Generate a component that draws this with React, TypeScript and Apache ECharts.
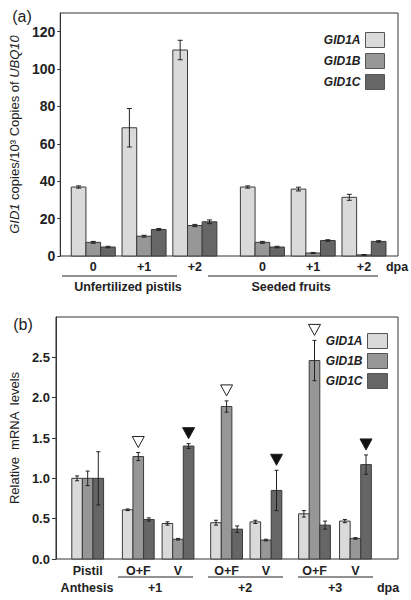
import React, { useEffect, useRef } from 'react';
import * as echarts from 'echarts';

const GENES = ['GID1A', 'GID1B', 'GID1C'];
const COLORS = ['#dadada', '#979797', '#666666'];
const FONT = '"Liberation Sans", Arial, sans-serif';
const NARROW = '"Liberation Sans Narrow", "Arial Narrow", "Liberation Sans", sans-serif';

// Panel (a)
const A_LABELS = ['0', '+1', '+2', '0', '+1', '+2'];
const A_POS = [1, 2, 3, 4.33, 5.33, 6.33];
const A_GID1A = [36.9, 68.6, 110.2, 36.9, 35.8, 31.4];
const A_GID1A_ERR = [0.6, 10.3, 5.2, 0.6, 1.0, 1.6];
const A_GID1B = [7.3, 10.6, 16.3, 7.3, 1.6, 0.6];
const A_GID1B_ERR = [0.5, 0.5, 0.6, 0.5, 0.3, 0.2];
const A_GID1C = [4.8, 14.2, 18.3, 4.8, 8.3, 7.8];
const A_GID1C_ERR = [0.4, 0.5, 1.0, 0.4, 0.4, 0.4];

// Panel (b)
const B_LABELS = ['Pistil', 'O+F', 'V', 'O+F', 'V', 'O+F', 'V'];
const B_POS = [0, 1.26, 2.25, 3.46, 4.44, 5.65, 6.67];
const B_GID1A = [1.0, 0.61, 0.44, 0.45, 0.46, 0.56, 0.47];
const B_GID1A_ERR = [0.03, 0.01, 0.02, 0.03, 0.02, 0.04, 0.02];
const B_GID1B = [1.0, 1.27, 0.245, 1.89, 0.235, 2.46, 0.255];
const B_GID1B_ERR = [0.09, 0.05, 0.01, 0.07, 0.01, 0.25, 0.01];
const B_GID1C = [1.0, 0.49, 1.4, 0.37, 0.85, 0.42, 1.17];
const B_GID1C_ERR = [0.33, 0.02, 0.03, 0.04, 0.25, 0.05, 0.12];
const B_OPEN_MARK = [1, 3, 5]; // open triangles above GID1B
const B_FILLED_MARK = [2, 4, 6]; // filled triangles above GID1C

const A_BARW = 0.289;
const B_BARW = 0.264;

function barSeries(name: string, gi: number, pos: number[], vals: number[], errs: number[], grid: number, barw: number, cap: number) {
  return {
    type: 'custom',
    name,
    xAxisIndex: grid,
    yAxisIndex: grid,
    itemStyle: { color: COLORS[gi] },
    encode: { x: 0, y: 1 },
    data: pos.map((p, i) => [p, vals[i], errs[i]]),
    renderItem: (params: any, api: any) => {
      const x = api.value(0);
      const y = api.value(1);
      const e = api.value(2);
      const w = api.size([barw, 0])[0];
      const c = api.coord([x, y]);
      const base = api.coord([x, 0]);
      const cx = c[0] + (gi - 1) * w;
      const top = api.coord([x, y + e])[1];
      const bot = api.coord([x, Math.max(0, y - e)])[1];
      const st = { stroke: '#222', lineWidth: 1 };
      return {
        type: 'group',
        children: [
          {
            type: 'rect',
            shape: { x: cx - w / 2, y: c[1], width: w, height: base[1] - c[1] },
            style: { fill: COLORS[gi], stroke: '#3a3a3a', lineWidth: 1 },
          },
          { type: 'line', shape: { x1: cx, y1: top, x2: cx, y2: bot }, style: st },
          { type: 'line', shape: { x1: cx - cap, y1: top, x2: cx + cap, y2: top }, style: st },
          { type: 'line', shape: { x1: cx - cap, y1: bot, x2: cx + cap, y2: bot }, style: st },
        ],
      };
    },
  };
}

function labelSeries(pos: number[], labels: string[], grid: number, dy: number) {
  return {
    type: 'custom',
    xAxisIndex: grid,
    yAxisIndex: grid,
    silent: true,
    encode: { x: 0, y: 1 },
    data: pos.map((p) => [p, 0]),
    renderItem: (params: any, api: any) => {
      const c = api.coord([api.value(0), 0]);
      return {
        type: 'text',
        style: {
          text: labels[params.dataIndex],
          x: c[0],
          y: c[1] + dy,
          align: 'center',
          verticalAlign: 'middle',
          fill: '#222',
          font: 'bold 12.5px ' + NARROW,
        },
      };
    },
  };
}

function markerSeries() {
  const items: number[][] = [];
  B_OPEN_MARK.forEach((i) => items.push([B_POS[i], B_GID1B[i] + B_GID1B_ERR[i], 1, 0]));
  B_FILLED_MARK.forEach((i) => items.push([B_POS[i], B_GID1C[i] + B_GID1C_ERR[i], 2, 1]));
  return {
    type: 'custom',
    xAxisIndex: 1,
    yAxisIndex: 1,
    silent: true,
    encode: { x: 0, y: 1 },
    data: items,
    renderItem: (params: any, api: any) => {
      const w = api.size([B_BARW, 0])[0];
      const c = api.coord([api.value(0), api.value(1)]);
      const cx = c[0] + (api.value(2) - 1) * w;
      const cy = c[1] - 11;
      const filled = api.value(3) === 1;
      return {
        type: 'polygon',
        shape: { points: [[cx - 6, cy - 5], [cx + 6, cy - 5], [cx, cy + 6]] },
        style: { fill: filled ? '#111' : '#fff', stroke: '#222', lineWidth: 1 },
      };
    },
  };
}

const txt = (text: string, x: number, y: number, size: number, weight = 'normal', family = FONT) => ({
  type: 'text',
  x,
  y,
  style: { text, align: 'center', verticalAlign: 'middle', fill: '#222', font: `${weight} ${size}px ${family}` },
});
const hline = (x1: number, x2: number, y: number) => ({
  type: 'line',
  shape: { x1, y1: y, x2, y2: y },
  style: { stroke: '#222', lineWidth: 1 },
});

export default function App() {
  const ref = useRef<HTMLDivElement>(null);
  useEffect(() => {
    if (!ref.current) return;
    const chart = echarts.init(ref.current, undefined, { renderer: 'svg' });
    const axisCommon = {
      axisLine: { show: true, onZero: false, lineStyle: { color: '#333' } },
      splitLine: { show: false },
    };
    const legendCommon = {
      orient: 'vertical',
      icon: 'rect',
      align: 'right',
      selectedMode: false,
      data: GENES,
      itemStyle: { borderColor: '#555', borderWidth: 1 },
      textStyle: { fontFamily: FONT, fontStyle: 'italic', fontWeight: 'bold', fontSize: 12, color: '#222' },
    };
    chart.setOption({
      animation: false,
      backgroundColor: '#fff',
      grid: [
        { left: 53, top: 13, right: 13, bottom: 344, show: true, borderColor: '#333', borderWidth: 1, backgroundColor: 'transparent' },
        { left: 53, top: 317, right: 13, bottom: 41, show: true, borderColor: '#333', borderWidth: 1, backgroundColor: 'transparent' },
      ],
      legend: [
        { ...legendCommon, right: 21, top: 27, itemWidth: 19, itemHeight: 15, itemGap: 5 },
        { ...legendCommon, right: 18, top: 328, itemWidth: 20, itemHeight: 15, itemGap: 4 },
      ],
      xAxis: [
        { type: 'value', gridIndex: 0, min: 0.35, max: 7.0, show: false },
        { type: 'value', gridIndex: 1, min: -0.79, max: 7.73, show: false },
      ],
      yAxis: [
        {
          ...axisCommon,
          type: 'value',
          gridIndex: 0,
          min: 0,
          max: 130,
          interval: 20,
          axisTick: { show: true, length: 3, lineStyle: { color: '#333' } },
          axisLabel: { showMaxLabel: false, margin: 5, fontFamily: NARROW, fontWeight: 'bold', fontSize: 14, color: '#222' },
          name: '{i|GID1} copies/10³ Copies of {i|UBQ10}',
          nameLocation: 'middle',
          nameRotate: 90,
          nameGap: 30,
          nameTextStyle: {
            fontFamily: FONT,
            fontSize: 13,
            color: '#222',
            rich: { i: { fontFamily: FONT, fontSize: 13, fontStyle: 'italic', color: '#222' } },
          },
        },
        {
          ...axisCommon,
          type: 'value',
          gridIndex: 1,
          min: 0,
          max: 3,
          interval: 0.5,
          axisTick: { show: true, length: 4, lineStyle: { color: '#333' } },
          axisLabel: {
            showMaxLabel: false,
            margin: 6,
            fontFamily: NARROW,
            fontWeight: 'bold',
            fontSize: 13,
            color: '#222',
            formatter: (v: number) => v.toFixed(1),
          },
          name: 'Relative  mRNA  levels',
          nameLocation: 'middle',
          nameRotate: 90,
          nameGap: 30,
          nameTextStyle: { fontFamily: FONT, fontSize: 13, color: '#222' },
        },
      ],
      series: [
        barSeries('GID1A', 0, A_POS, A_GID1A, A_GID1A_ERR, 0, A_BARW, 2.5),
        barSeries('GID1B', 1, A_POS, A_GID1B, A_GID1B_ERR, 0, A_BARW, 2.5),
        barSeries('GID1C', 2, A_POS, A_GID1C, A_GID1C_ERR, 0, A_BARW, 2.5),
        barSeries('GID1A', 0, B_POS, B_GID1A, B_GID1A_ERR, 1, B_BARW, 2),
        barSeries('GID1B', 1, B_POS, B_GID1B, B_GID1B_ERR, 1, B_BARW, 2),
        barSeries('GID1C', 2, B_POS, B_GID1C, B_GID1C_ERR, 1, B_BARW, 2),
        labelSeries(A_POS, A_LABELS, 0, 11),
        labelSeries(B_POS, B_LABELS, 1, 12),
        markerSeries(),
      ],
      graphic: [
        txt('(a)', 22, 16, 16),
        txt('(b)', 23, 324, 16),
        txt('dpa', 397, 267, 12.5, 'bold', NARROW),
        hline(62, 177, 276),
        hline(208, 378, 276),
        txt('Unfertilized pistils', 128, 287, 12.5, 'bold', NARROW),
        txt('Seeded fruits', 291, 287, 12.5, 'bold', NARROW),
        hline(118, 193, 577),
        hline(208, 283, 577),
        hline(298, 373, 577),
        txt('Anthesis', 87, 588, 12.5, 'bold', NARROW),
        txt('+1', 155, 588, 12.5, 'bold', NARROW),
        txt('+2', 245, 588, 12.5, 'bold', NARROW),
        txt('+3', 335, 588, 12.5, 'bold', NARROW),
        txt('dpa', 388, 588, 12.5, 'bold', NARROW),
      ],
    });
    return () => chart.dispose();
  }, []);
  return <div ref={ref} style={{ position: 'absolute', left: 0, top: 0, width: 411, height: 600 }} />;
}
